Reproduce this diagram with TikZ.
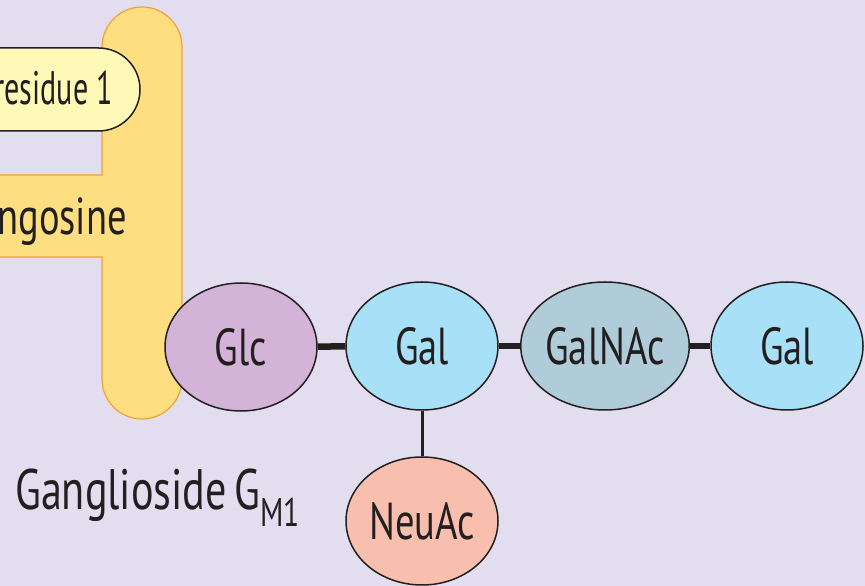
\documentclass[tikz,border=0pt]{standalone}
\usepackage{fontspec}
\setmainfont[FakeStretch=0.74]{PT Sans}
\newfontfamily\resfont[FakeStretch=0.64]{PT Sans}
\usetikzlibrary{shapes.geometric}
\definecolor{bg}{RGB}{226,222,240}
\definecolor{lipid}{RGB}{253,222,128}
\definecolor{lipidedge}{RGB}{246,160,50}
\definecolor{resfill}{RGB}{255,249,184}
\definecolor{glcfill}{RGB}{211,180,216}
\definecolor{galfill}{RGB}{168,224,247}
\definecolor{galnacfill}{RGB}{175,204,216}
\definecolor{neufill}{RGB}{248,191,174}
\definecolor{ink}{RGB}{35,31,32}
\tikzset{
  sugar/.style={ellipse, draw=ink, line width=1.5pt, minimum width=152pt, minimum height=128pt, inner sep=0pt, text=ink, font=\fontsize{52}{60}\selectfont},
  bond/.style={draw=ink, line width=6.5pt},
  branch/.style={draw=ink, line width=3pt},
  lbl/.style={text=ink, inner sep=0pt, font=\fontsize{52}{60}\selectfont}
}
\begin{document}
\begin{tikzpicture}[x=1pt,y=1pt]
\useasboundingbox (0,0) rectangle (865,586);
\fill[bg] (0,0) rectangle (865,586);
\clip (0,0) rectangle (865,586);
% lipid (sphingosine + vertical bar)
\fill[lipid] (-5,329) -- (102,329) -- (102,207) arc[start angle=180,end angle=360,radius=40] -- (182,539) arc[start angle=0,end angle=180,radius=40] -- (102,411) -- (-5,411) -- cycle;
\draw[lipidedge, line width=1.2pt] (-5,329) -- (102,329) -- (102,207) arc[start angle=180,end angle=360,radius=40] -- (182,539) arc[start angle=0,end angle=180,radius=40] -- (102,411) -- (-5,411);
% fatty acid residue box
\filldraw[fill=resfill, draw=ink, line width=1.5pt] (-5,455) -- (98.5,455) arc[start angle=-90,end angle=90,radius=41.5] -- (-5,538) -- cycle;
\node[text=ink, inner sep=0pt, anchor=base east, font=\resfont\fontsize{47}{52}\selectfont] (res) at (113,481) {residue 1};
\node[lbl, anchor=base east] (sph) at (127,351) {ngosine};
% sugars
\node[sugar, fill=glcfill] (glc) at (241,239) {Glc};
\node[sugar, fill=galfill] (gal1) at (422,240) {Gal};
\node[sugar, fill=galnacfill] (galnac) at (605,240) {GalNAc};
\node[sugar, fill=galfill] (gal2) at (787,240) {Gal};
\node[sugar, fill=neufill] (neu) at (422,65) {NeuAc};
\path[bond] (glc) -- (gal1);
\path[bond] (gal1) -- (galnac);
\path[bond] (galnac) -- (gal2);
\path[branch] (gal1) -- (neu);
% label
\node[text=ink, inner sep=0pt, anchor=base west, font=\fontsize{57}{64}\selectfont] (name) at (15,76) {Ganglioside\hspace{-4pt} G\raisebox{-17pt}{\fontsize{40}{44}\selectfont M1}};
\end{tikzpicture}
\end{document}
